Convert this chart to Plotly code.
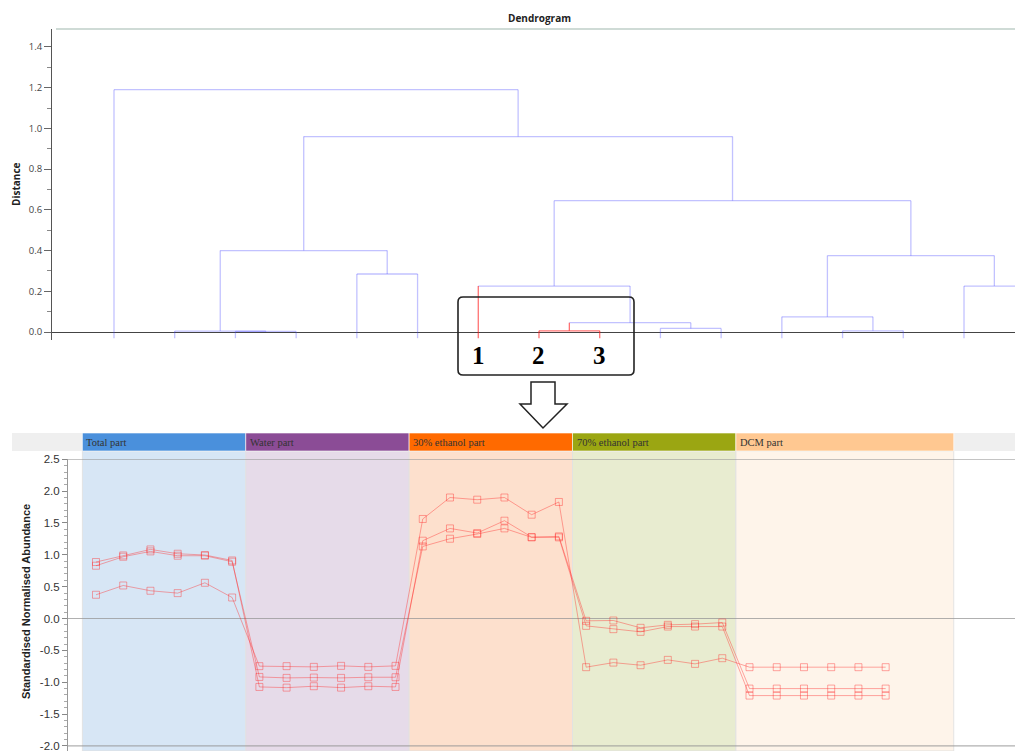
import plotly.graph_objects as go

W, H = 1015, 751

# ---------------- dendrogram (hierarchical clustering of features) ----------------
n_leaves = 16
merge_left = [2, 1, 7, 12, 9, 18, 11, 6, 14, 4, 22, 17, 23, 27, 0]
merge_right = [3, 16, 8, 13, 10, 20, 19, 21, 15, 5, 24, 25, 26, 28, 29]
merge_height = [0.003, 0.005, 0.006, 0.006, 0.018, 0.046, 0.075, 0.226, 0.226,
                0.285, 0.375, 0.40, 0.645, 0.96, 1.19]
highlighted = [6, 7, 8, 18]          # cluster ids drawn in red
selected_leaves = [6, 7, 8]
selected_labels = ["1", "2", "3"]
distance_ticks = [0.0, 0.2, 0.4, 0.6, 0.8, 1.0, 1.2, 1.4]

# ---------------- abundance profiles of the selected features ----------------
group_names = ["Total part", "Water part", "30% ethanol part", "70% ethanol part", "DCM part"]
group_start = [0, 6, 12, 18, 24]
group_width = [6, 6, 6, 6, 8]
group_colors = ["#4a90dc", "#8b4c96", "#ff6a00", "#9ba612", "#ffc891"]
group_shades = ["#d7e6f5", "#e6dbe9", "#fde0cd", "#e8ecd0", "#fef4ea"]

profile_1 = [0.887, 0.991, 1.085, 1.017, 0.997, 0.912,
             -1.074, -1.085, -1.063, -1.085, -1.063, -1.074,
             1.222, 1.415, 1.342, 1.536, 1.279, 1.290,
             -0.036, -0.031, -0.146, -0.099, -0.088, -0.063,
             -1.10, -1.10, -1.10, -1.10, -1.10, -1.10]
profile_2 = [0.829, 0.970, 1.054, 0.986, 0.986, 0.892,
             -0.917, -0.932, -0.927, -0.932, -0.922, -0.922,
             1.132, 1.253, 1.327, 1.415, 1.274, 1.274,
             -0.115, -0.167, -0.209, -0.126, -0.126, -0.126,
             -1.21, -1.21, -1.21, -1.21, -1.21, -1.21]
profile_3 = [0.373, 0.519, 0.436, 0.399, 0.561, 0.330,
             -0.748, -0.748, -0.759, -0.743, -0.759, -0.743,
             1.563, 1.900, 1.866, 1.900, 1.630, 1.830,
             -0.764, -0.692, -0.733, -0.649, -0.712, -0.623,
             -0.764, -0.764, -0.764, -0.764, -0.764, -0.764]
profiles = [profile_1, profile_2, profile_3]
abundance_ticks = [2.5, 2.0, 1.5, 1.0, 0.5, 0.0, -0.5, -1.0, -1.5, -2.0]
abundance_labels = ["2.5", "2.0", "1.5", "1.0", "0.5", "0.0", "-0.5", "-1.0", "-1.5", "-2.0"]


def px(x):
    return x / W


def py(y):
    return 1 - y / H


# ---- build dendrogram link coordinates ----
xpos = {i: float(i) for i in range(n_leaves)}
ypos = {i: -0.03 for i in range(n_leaves)}
seg = {"blue": ([], []), "red": ([], [])}


def add(color, xs, ys):
    seg[color][0].extend(xs + [None])
    seg[color][1].extend(ys + [None])


for k, (a, b, h) in enumerate(zip(merge_left, merge_right, merge_height)):
    nid = n_leaves + k
    for c in (a, b):
        add("red" if c in highlighted else "blue", [xpos[c], xpos[c]], [ypos[c], h])
    add("red" if nid in highlighted else "blue", [xpos[a], xpos[b]], [h, h])
    xpos[nid] = (xpos[a] + xpos[b]) / 2
    ypos[nid] = h

fig = go.Figure()
fig.add_trace(go.Scatter(x=seg["blue"][0], y=seg["blue"][1], mode="lines",
                         line=dict(color="rgba(70,70,255,0.33)", width=1.3),
                         xaxis="x", yaxis="y", hoverinfo="skip", showlegend=False))
fig.add_trace(go.Scatter(x=seg["red"][0], y=seg["red"][1], mode="lines",
                         line=dict(color="rgba(255,20,20,0.6)", width=1.3),
                         xaxis="x", yaxis="y", hoverinfo="skip", showlegend=False))

# ---- profile lines ----
sample_idx = list(range(len(profile_1)))
for prof in profiles:
    fig.add_trace(go.Scatter(
        x=sample_idx, y=prof, mode="lines+markers",
        line=dict(color="rgba(255,40,40,0.4)", width=1),
        marker=dict(symbol="square-open", size=7,
                    line=dict(color="rgba(255,40,40,0.45)", width=1)),
        xaxis="x2", yaxis="y2", hoverinfo="skip", showlegend=False))

shapes = []
annotations = []

# dendrogram top rule
shapes.append(dict(type="line", xref="paper", yref="paper", x0=px(56), x1=1,
                   y0=py(29), y1=py(29), line=dict(color="#cfdbd6", width=2), layer="below"))

# header strip and group bands
shapes.append(dict(type="rect", xref="paper", yref="paper", x0=px(12), x1=1,
                   y0=py(451), y1=py(433), fillcolor="#efefef", line=dict(width=0), layer="below"))
for name, s, w, c, sh in zip(group_names, group_start, group_width, group_colors, group_shades):
    shapes.append(dict(type="rect", xref="x2", yref="paper", x0=s - 0.5, x1=s + w - 0.5,
                       y0=0, y1=py(451), fillcolor=sh,
                       line=dict(color="rgba(225,225,225,0.9)", width=1), layer="below"))
    shapes.append(dict(type="rect", xref="x2", yref="paper", x0=s - 0.5, x1=s + w - 0.5,
                       y0=py(451), y1=py(433), fillcolor=c,
                       line=dict(color="rgba(255,255,255,0.6)", width=1), layer="below"))
    annotations.append(dict(text=name, xref="x2", yref="paper", x=s - 0.5, y=py(442),
                            xanchor="left", yanchor="middle", xshift=2, showarrow=False,
                            font=dict(family="Liberation Serif", size=10.5, color="#333333")))

# horizontal reference lines in the profile panel
for v in (2.5, 0.0, -2.0):
    shapes.append(dict(type="line", xref="paper", yref="y2", x0=px(68), x1=1, y0=v, y1=v,
                       line=dict(color="rgba(150,150,150,0.75)", width=1.2), layer="below"))

# rounded selection box around the highlighted cluster
def rounded_box(x0, y0, x1, y1, r):
    p = lambda x, y: f"{px(x):.5f},{py(y):.5f}"
    return (f"M {p(x0 + r, y0)} L {p(x1 - r, y0)} Q {p(x1, y0)} {p(x1, y0 + r)} "
            f"L {p(x1, y1 - r)} Q {p(x1, y1)} {p(x1 - r, y1)} "
            f"L {p(x0 + r, y1)} Q {p(x0, y1)} {p(x0, y1 - r)} "
            f"L {p(x0, y0 + r)} Q {p(x0, y0)} {p(x0 + r, y0)} Z")


shapes.append(dict(type="path", xref="paper", yref="paper", path=rounded_box(458, 297, 634, 375, 5),
                   line=dict(color="#222222", width=1.6)))

# hollow down arrow
arrow_pts = [(531, 382), (555, 382), (555, 404), (567, 404), (543, 428), (520, 404), (531, 404)]
arrow_path = "M " + " L ".join(f"{px(x):.5f},{py(y):.5f}" for x, y in arrow_pts) + " Z"
shapes.append(dict(type="path", xref="paper", yref="paper", path=arrow_path,
                   fillcolor="white", line=dict(color="#222222", width=1.5)))

for leaf, lab in zip(selected_leaves, selected_labels):
    annotations.append(dict(text=f"<b>{lab}</b>", xref="x", yref="paper", x=leaf, y=py(355),
                            xanchor="center", yanchor="middle", showarrow=False,
                            font=dict(family="Liberation Serif", size=25, color="black")))

annotations.append(dict(text="<b>Dendrogram</b>", xref="paper", yref="paper", x=px(539), y=py(18),
                        xanchor="center", yanchor="middle", showarrow=False,
                        font=dict(family="Open Sans", size=10, color="#222222")))
annotations.append(dict(text="<b>Distance</b>", xref="paper", yref="paper", x=px(16), y=py(184),
                        xanchor="center", yanchor="middle", textangle=-90, showarrow=False,
                        font=dict(family="Open Sans", size=10, color="#222222")))
annotations.append(dict(text="<b>Standardised Normalised Abundance</b>", xref="paper", yref="paper",
                        x=px(26), y=py(602), xanchor="center", yanchor="middle", textangle=-90,
                        showarrow=False,
                        font=dict(family="Liberation Sans", size=11, color="#222222")))

fig.update_layout(
    width=W, height=H,
    margin=dict(l=0, r=0, t=0, b=0),
    paper_bgcolor="white", plot_bgcolor="rgba(0,0,0,0)",
    xaxis=dict(domain=[px(52), 1], range=[-1.021, 14.84], showgrid=False, zeroline=False,
               showticklabels=False, ticks="", showline=False, fixedrange=True),
    yaxis=dict(domain=[py(340), py(29)], range=[-0.039, 1.488], anchor="x",
               showgrid=False, zeroline=True, zerolinecolor="#444444", zerolinewidth=1,
               showline=True, linecolor="#555555", linewidth=1,
               tickvals=distance_ticks, tickformat=".1f", ticks="outside", ticklen=7,
               tickcolor="#666666",
               minor=dict(dtick=0.1, ticks="outside", ticklen=4, tickcolor="#888888"),
               tickfont=dict(family="Open Sans", size=9.5, color="#444444"), automargin=False),
    xaxis2=dict(domain=[px(68), 1], range=[-1.028, 33.75], anchor="y2", showgrid=False,
                zeroline=False, showticklabels=False, ticks="", showline=False),
    yaxis2=dict(domain=[0, py(459.3)], range=[-2.08, 2.5], anchor="x2",
                showgrid=False, zeroline=False, showline=True, linecolor="#999999", linewidth=1,
                tickvals=abundance_ticks, ticktext=abundance_labels, ticks="outside", ticklen=5,
                tickcolor="#888888", ticklabeloverflow="allow",
                minor=dict(dtick=0.1, ticks="outside", ticklen=3, tickcolor="#aaaaaa"),
                tickfont=dict(family="Liberation Sans", size=11.5, color="#333333"),
                automargin=False),
    shapes=shapes, annotations=annotations,
)

fig.write_html("out.html")
